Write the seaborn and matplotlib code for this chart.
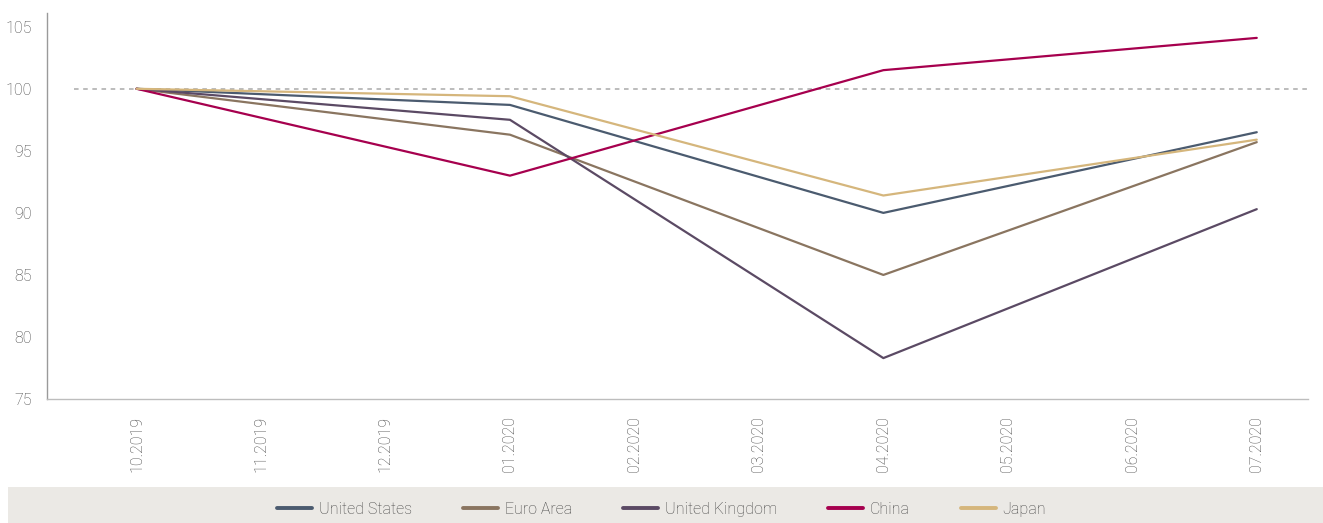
import numpy as np
import pandas as pd
import matplotlib
matplotlib.use("Agg")
import matplotlib.pyplot as plt
import seaborn as sns
from matplotlib.patches import Rectangle

# ---- data ----
months = ["10.2019", "11.2019", "12.2019", "01.2020", "02.2020",
          "03.2020", "04.2020", "05.2020", "06.2020", "07.2020"]
obs_idx = [0, 3, 6, 9]  # months with observations
series_names = ["United States", "Euro Area", "United Kingdom", "China", "Japan"]
us = [100.0, 98.7, 90.0, 96.5]
euro = [100.0, 96.3, 85.0, 95.7]
uk = [100.0, 97.5, 78.3, 90.3]
china = [100.0, 93.0, 101.5, 104.1]
japan = [100.0, 99.4, 91.4, 95.9]
colors = ["#4b5b6f", "#8a7560", "#5b4a64", "#a6004e", "#d5b67c"]
baseline = 100

values = [us, euro, uk, china, japan]
rows = []
for name, vals in zip(series_names, values):
    for i, v in zip(obs_idx, vals):
        rows.append({"month": i, "value": v, "series": name})
df = pd.DataFrame(rows)

sns.set_theme(style="white")
plt.rcParams["font.family"] = ["Roboto", "DejaVu Sans"]
plt.rcParams["font.weight"] = "light"

fig = plt.figure(figsize=(13.23, 5.23), dpi=100)
ax = fig.add_axes([0.0355, 0.237, 0.953, 0.738])

ax.plot([-0.5, 9.42], [baseline, baseline], ls=(0, (3, 3)), color="#aaaaaa", lw=1.1, zorder=1)

sns.lineplot(data=df, x="month", y="value", hue="series", hue_order=series_names,
             palette=colors, linewidth=1.6, ax=ax, legend=False, zorder=3)

ax.set_xlim(-0.72, 9.41)
ax.set_ylim(75, 106.1)
ax.set_xticks(range(len(months)))
ax.set_xticklabels(months, rotation=90)
ax.set_yticks([75, 80, 85, 90, 95, 100, 105])
ax.tick_params(axis="both", length=0, labelsize=11.5, labelcolor="#444444")
ax.tick_params(axis="x", pad=12)
ax.tick_params(axis="y", pad=11)
ax.set_xlabel("")
ax.set_ylabel("")
for s in ["top", "right"]:
    ax.spines[s].set_visible(False)
ax.spines["left"].set_color("#9a9a9a")
ax.spines["bottom"].set_color("#bdbdbd")
ax.spines["left"].set_linewidth(1.0)
ax.spines["bottom"].set_linewidth(1.0)

# legend band
fig.patches.append(Rectangle((8 / 1323, 0), 1 - 8 / 1323, 36 / 523,
                             transform=fig.transFigure, facecolor="#ebe9e5",
                             edgecolor="none", zorder=0))
handles = [plt.Line2D([], [], color=c, lw=2.8) for c in colors]
leg = fig.legend(handles, series_names, loc="center", bbox_to_anchor=(0.5, 0.026),
                 ncol=5, frameon=False, fontsize=11.5, handlelength=2.2,
                 handletextpad=0.4, columnspacing=3.2)
for t in leg.get_texts():
    t.set_color("#444444")

fig.savefig("out.png", dpi=100)
